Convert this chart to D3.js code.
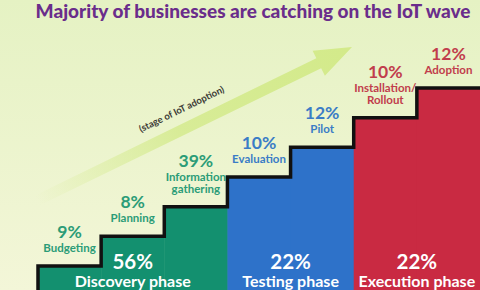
<!DOCTYPE html>
<meta charset="utf-8">
<style>
body { margin: 0; }
svg { display: block; font-family: Lato, "Open Sans", sans-serif; }
</style>
<body>
<div id="chart"></div>
</body>
<script src="https://d3js.org/d3.v7.min.js"></script>
<script>

// stages of IoT adoption, left to right (one stair each)
var stages = ["Budgeting", "Planning", "Information gathering", "Evaluation", "Pilot", "Installation/ Rollout", "Adoption"];
var stageLines = [["Budgeting"], ["Planning"], ["Information", "gathering"], ["Evaluation"], ["Pilot"], ["Installation/", "Rollout"], ["Adoption"]];
var stagePct = [9, 8, 39, 10, 12, 10, 12];
var stagePhase = [0, 0, 0, 1, 1, 2, 2];

// phases the stairs are grouped into
var phases = ["Discovery phase", "Testing phase", "Execution phase"];
var phasePct = [56, 22, 22];
var phaseFill = ["#13906f", "#2e72c9", "#c92a42"];
var labelFill = ["#2b9c77", "#3a7cc6", "#c13d4c"];

var width = 480, height = 290;

var svg = d3.select("#chart").append("svg")
    .attr("width", width)
    .attr("height", height);

var defs = svg.append("defs");
var bg = defs.append("linearGradient").attr("id", "bg")
    .attr("x1", 0).attr("y1", 0).attr("x2", 0).attr("y2", 1);
bg.append("stop").attr("offset", 0).attr("stop-color", "#e5f2c3");
bg.append("stop").attr("offset", 1).attr("stop-color", "#f3f6d8");

var ag = defs.append("linearGradient").attr("id", "arrowGrad")
    .attr("gradientUnits", "userSpaceOnUse")
    .attr("x1", -350).attr("y1", 0).attr("x2", 0).attr("y2", 0);
ag.append("stop").attr("offset", 0).attr("stop-color", "#d3ea8a").attr("stop-opacity", 0);
ag.append("stop").attr("offset", 0.45).attr("stop-color", "#d3ea8a").attr("stop-opacity", 0.8);
ag.append("stop").attr("offset", 1).attr("stop-color", "#d3ea8a").attr("stop-opacity", 1);

svg.append("rect")
    .attr("width", width)
    .attr("height", height)
    .attr("fill", "url(#bg)");

// title
svg.append("text")
    .attr("x", 253)
    .attr("y", 18)
    .attr("text-anchor", "middle")
    .style("font-size", "19px")
    .style("font-weight", 900)
    .attr("fill", "#6a2d8b")
    .text("Majority of businesses are catching on the IoT wave");

// arrow
var arrow = svg.append("g")
    .attr("transform", "translate(352,47) rotate(-26)");
arrow.append("path")
    .attr("d", "M0,0 L-37,-14 L-37,-5.5 L-350,-5.5 L-350,5.5 L-37,5.5 L-37,14 Z")
    .attr("fill", "url(#arrowGrad)");

svg.append("text")
    .attr("transform", "translate(183,112) rotate(-26)")
    .attr("text-anchor", "middle")
    .style("font-size", "9.5px")
    .style("font-weight", 700)
    .attr("fill", "#3b3b36")
    .text("(stage of IoT adoption)");

// scales
var x = d3.scaleBand().domain(stages).range([38, 480]);
var y = d3.scaleLinear().domain([1, 7]).range([266, 88]);
var bottom = 300;

var data = stages.map(function(s, i) {
  return {stage: s, lines: stageLines[i], pct: stagePct[i], phase: stagePhase[i], level: i + 1};
});

// coloured stairs
svg.append("g").selectAll("rect")
    .data(data)
  .enter().append("rect")
    .attr("x", function(d) { return x(d.stage); })
    .attr("y", function(d) { return y(d.level); })
    .attr("width", x.bandwidth() + 0.5)
    .attr("height", function(d) { return bottom - y(d.level); })
    .attr("fill", function(d) { return phaseFill[d.phase]; });

// black outline of the staircase
var pts = [[x(stages[0]), bottom]];
data.forEach(function(d) {
  pts.push([x(d.stage), y(d.level)]);
  pts.push([x(d.stage) + x.bandwidth(), y(d.level)]);
});
pts[pts.length - 1][0] = width + 5;
svg.append("path")
    .attr("d", d3.line()(pts))
    .attr("fill", "none")
    .attr("stroke", "#111")
    .attr("stroke-width", 3.5)
    .attr("stroke-linejoin", "miter");

// stage labels
var lab = svg.append("g").selectAll("g")
    .data(data)
  .enter().append("g")
    .attr("transform", function(d) { return "translate(" + (x(d.stage) + x.bandwidth() / 2) + "," + y(d.level) + ")"; })
    .attr("text-anchor", "middle")
    .attr("fill", function(d) { return labelFill[d.phase]; });

lab.append("text")
    .attr("y", function(d) { return -16 - 12 * d.lines.length; })
    .style("font-size", "17.5px")
    .style("font-weight", 700)
    .text(function(d) { return d.pct + "%"; });

lab.each(function(d) {
  var g = d3.select(this);
  d.lines.forEach(function(t, j) {
    g.append("text")
        .attr("y", -14 - 12 * (d.lines.length - 1 - j))
        .style("font-size", "11.5px")
        .style("font-weight", 700)
        .text(t);
  });
});

// phase labels
var phaseExtent = phases.map(function(p, k) {
  var idx = d3.range(stages.length).filter(function(i) { return stagePhase[i] === k; });
  return {
    name: p,
    pct: phasePct[k],
    x0: x(stages[idx[0]]),
    x1: x(stages[idx[idx.length - 1]]) + x.bandwidth()
  };
});

var ph = svg.append("g").selectAll("g")
    .data(phaseExtent)
  .enter().append("g")
    .attr("transform", function(d) { return "translate(" + ((d.x0 + d.x1) / 2) + ",0)"; })
    .attr("text-anchor", "middle")
    .attr("fill", "#ffffff");

ph.append("text")
    .attr("y", 269)
    .style("font-size", "20.5px")
    .style("font-weight", 700)
    .text(function(d) { return d.pct + "%"; });

ph.append("text")
    .attr("y", 287)
    .style("font-size", "16px")
    .style("font-weight", 700)
    .text(function(d) { return d.name; });

</script>
